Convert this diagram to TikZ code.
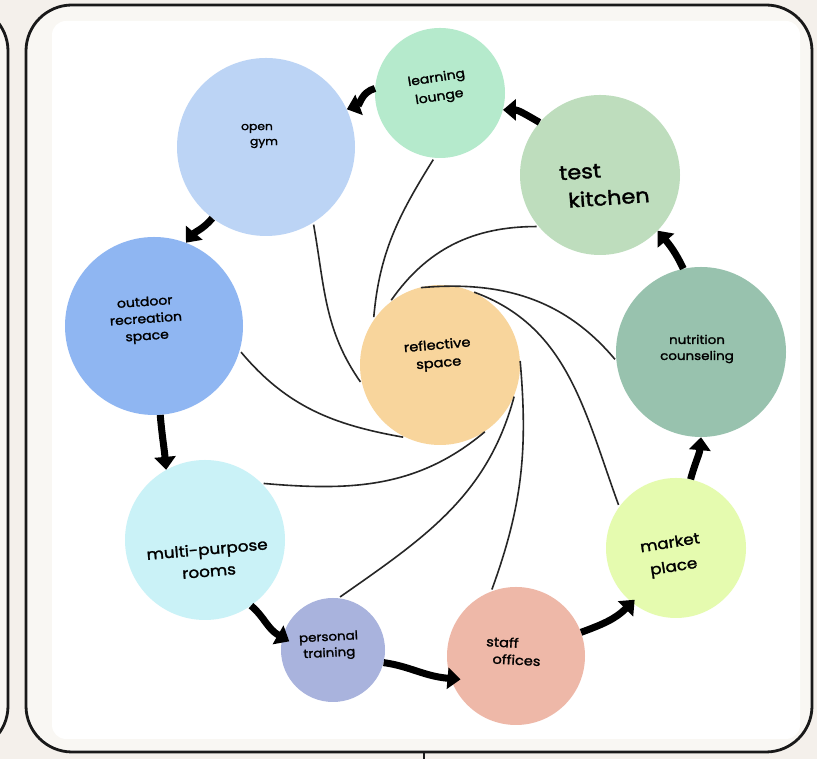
\documentclass[tikz,border=0pt]{standalone}
\usepackage{fontspec}
\newfontfamily\hand[FakeStretch=1.12,FakeBold=1.6]{Poppins}
\usetikzlibrary{arrows.meta}
\definecolor{bgc}{HTML}{F4F0EB}
\definecolor{panelc}{HTML}{F9F7F3}
\definecolor{cgym}{HTML}{BCD4F5}
\definecolor{clounge}{HTML}{B5EACC}
\definecolor{ctk}{HTML}{BEDDBD}
\definecolor{cnutr}{HTML}{98C2AE}
\definecolor{cmarket}{HTML}{E5FBAF}
\definecolor{cstaff}{HTML}{EEB8A8}
\definecolor{cpt}{HTML}{A9B3DD}
\definecolor{cmulti}{HTML}{CAF2F7}
\definecolor{cout}{HTML}{8FB6F2}
\definecolor{crefl}{HTML}{F8D59C}
\tikzset{
  bub/.style={circle, draw=none, inner sep=0pt},
  lab/.style={align=center, inner sep=0pt, text=black},
  spoke/.style={line width=1.6pt, draw=black!85, shorten <=2pt, shorten >=3pt},
  bigarrow/.style={line width=7pt, -{Triangle[length=13pt,width=21pt]}, draw=black},
  frame/.style={line width=2.8pt, draw=black!90, rounded corners=46pt}
}
\begin{document}
\begin{tikzpicture}[x=1pt,y=1pt]
\clip (0,0) rectangle (817,759);
\fill[bgc] (0,0) rectangle (817,759);
% panels
\draw[frame, fill=panelc] (-120,7) rectangle (8,754);
\draw[frame, fill=panelc] (26,7) rectangle (812,754);
\fill[white, rounded corners=14pt] (52,20) rectangle (800,738);
\draw[line width=1.5pt, draw=black!90] (424,0) -- (424,8);

% circles
\node[bub, fill=cgym,    minimum size=178pt] (gym)     at (266,612) {};
\node[bub, fill=clounge, minimum size=130pt] (lounge)  at (440,666) {};
\node[bub, fill=ctk,     minimum size=160pt] (tk)      at (600,584) {};
\node[bub, fill=cnutr,   minimum size=170pt] (nutr)    at (701,407) {};
\node[bub, fill=cmarket, minimum size=140pt] (market)  at (676,211) {};
\node[bub, fill=cstaff,  minimum size=138pt] (staff)   at (516,103) {};
\node[bub, fill=cpt,     minimum size=104pt] (pt)      at (333,109) {};
\node[bub, fill=cmulti,  minimum size=160pt] (multi)   at (205,219) {};
\node[bub, fill=cout,    minimum size=178pt] (outdoor) at (154,433) {};
\node[bub, fill=crefl,   minimum size=160pt] (refl)    at (440,394) {};

% labels
\node[lab, font=\hand\fontsize{11}{15}\selectfont] (tgym) at (257,623) {open\\\hspace*{14pt}gym};
\node[lab, rotate=9, font=\hand\fontsize{12.5}{19}\selectfont] (tlounge) at (438,671) {learning\\lounge};
\node[lab, rotate=4, font=\hand\fontsize{20}{28}\selectfont] (ttk) at (596,574) {test\hspace*{30pt}\\\hspace*{24pt}kitchen};
\node[lab, font=\hand\fontsize{12}{16}\selectfont] (tnutr) at (697,410) {nutrition\\counseling};
\node[lab, rotate=9, font=\hand\fontsize{15}{24}\selectfont] (tmarket) at (672,203) {market\\place};
\node[lab, rotate=-3, font=\hand\fontsize{13}{17}\selectfont] (tstaff) at (509,108) {staff\hspace*{14pt}\\\hspace*{16pt}offices};
\node[lab, rotate=3, font=\hand\fontsize{12}{16}\selectfont] (tpt) at (329,113) {personal\\training};
\node[lab, rotate=5, font=\hand\fontsize{15}{22}\selectfont] (tmulti) at (208,199) {multi-purpose\\rooms};
\node[lab, rotate=4, font=\hand\fontsize{12.5}{17}\selectfont] (tout) at (146,439) {outdoor\\recreation\\space};
\node[lab, rotate=5, font=\hand\fontsize{13}{18}\selectfont] (trefl) at (438,404) {reflective\\space};

% spiral spokes
\draw[spoke] (lounge.265) to[out=238,in=85]  (refl.146);
\draw[spoke] (gym.302)    to[out=280,in=125] (refl.194);
\draw[spoke] (outdoor.344) to[out=-50,in=170] (refl.245);
\draw[spoke] (multi.45)   to[out=-5,in=220]  (refl.306);
\draw[spoke] (pt.84)      to[out=35,in=255]  (refl.-21);
\draw[spoke] (staff.111)  to[out=70,in=-85]  (refl.5);
\draw[spoke] (market.144) to[out=110,in=-20] (refl.67);
\draw[spoke] (nutr.186)   to[out=130,in=5]   (refl.106);
\draw[spoke] (tk.220)     to[out=180,in=55]  (refl.129);

% cycle arrows
\draw[bigarrow] (lounge.176) to[out=195,in=20] (gym.25);
\draw[bigarrow] (tk.139) to[out=150,in=0] (lounge.-15);
\draw[bigarrow] (nutr.102) to[out=115,in=-50] (tk.-44);
\draw[bigarrow] (market.78) to[out=75,in=-95] (nutr.-90);
\draw[bigarrow, shorten >=-4pt] (staff.20) to[out=20,in=225] (market.231);
\draw[bigarrow, shorten >=-10pt] (pt.-14) to[out=-8,in=175] (staff.199);
\draw[bigarrow, shorten >=-8pt] (multi.-55) to[out=-40,in=150] (pt.166);
\draw[bigarrow] (outdoor.-86) to[out=-85,in=95] (multi.119);
\draw[bigarrow] (gym.233) to[out=230,in=50] (outdoor.69);
\end{tikzpicture}
\end{document}
